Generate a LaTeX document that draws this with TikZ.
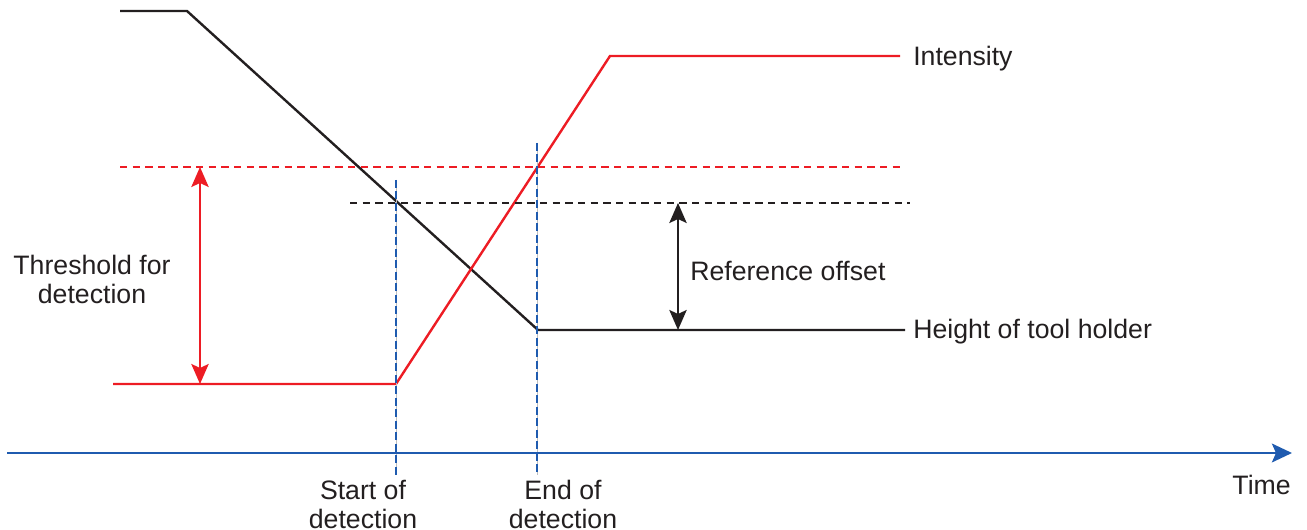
\documentclass[tikz,border=0pt]{standalone}
\usepackage{fontspec}
\setmainfont{Liberation Sans}
\usetikzlibrary{arrows.meta}
\definecolor{cred}{HTML}{ED1C24}
\definecolor{cblack}{HTML}{231F20}
\definecolor{cblue}{HTML}{1F5BAF}
\begin{document}
\begin{tikzpicture}[x=0.75pt,y=-0.75pt,
  every node/.style={font=\fontsize{20pt}{21.75pt}\selectfont, text=cblack, inner sep=0pt},
  curve/.style={line width=1.8pt, line join=miter},
  thresh/.style={line width=1.7pt, dash pattern=on 5.5pt off 4pt},
  marker/.style={line width=1.6pt, cblue, dash pattern=on 6pt off 2.6pt},
  guide/.style={line width=0.4pt, gray!50},
  dim/.style={line width=1.6pt, {Stealth[length=15pt,width=13pt,inset=3pt]}-{Stealth[length=15pt,width=13pt,inset=3pt]}},
  axis/.style={line width=2.2pt, cblue, -{Stealth[length=15pt,width=14pt,inset=3pt]}}]
\useasboundingbox (0,0) rectangle (1307,530);

% height of tool holder
\coordinate (h0) at (120,11);
\coordinate (h1) at (187,11);
\coordinate (h2) at (538,330);
\coordinate (h3) at (905,330);
\draw[curve, cblack] (h0) -- (h1) -- (h2) -- (h3);

% intensity
\coordinate (i0) at (113,384);
\coordinate (i1) at (396,384);
\coordinate (i2) at (610,56);
\coordinate (i3) at (900,56);
\draw[curve, cred] (i0) -- (i1) -- (i2) -- (i3);

% detection threshold and reference level
\coordinate (t0) at (120,167);
\coordinate (t1) at (905,167);
\draw[thresh, cred] (t0) -- (t1);
\coordinate (r0) at (350,203);
\coordinate (r1) at (910,203);
\draw[thresh, cblack] (r0) -- (r1);

% start and end of detection markers
\coordinate (s0) at (396,180);
\coordinate (s1) at (396,475);
\coordinate (e0) at (537,143);
\coordinate (e1) at (537,475);
\draw[guide] (s0) -- (s1);
\draw[guide] (e0) -- (e1);
\draw[marker] (s0) -- (s1);
\draw[marker] (e0) -- (e1);

% dimension arrows
\coordinate (ta) at (200,167);
\coordinate (tb) at (200,384);
\draw[dim, cred] (ta) -- (tb);
\coordinate (ra) at (678,203);
\coordinate (rb) at (678,330);
\draw[dim, cblack] (ra) -- (rb);

% time axis
\coordinate (ax0) at (7,453);
\coordinate (ax1) at (1292,453);
\draw[axis] (ax0) -- (ax1);

% labels
\node[anchor=west] (lint) at (913,59) {Intensity};
\node[anchor=west] (lhgt) at (913,332) {Height of tool holder};
\node[anchor=west] (lref) at (690,271) {Reference offset};
\node[align=center] (lthr) at (92,279) {Threshold for\\detection};
\node[align=center] (lsta) at (363,504) {Start of\\detection};
\node[align=center] (lend) at (563,504) {End of\\detection};
\node[anchor=east] (ltim) at (1291,485) {Time};
\end{tikzpicture}
\end{document}
